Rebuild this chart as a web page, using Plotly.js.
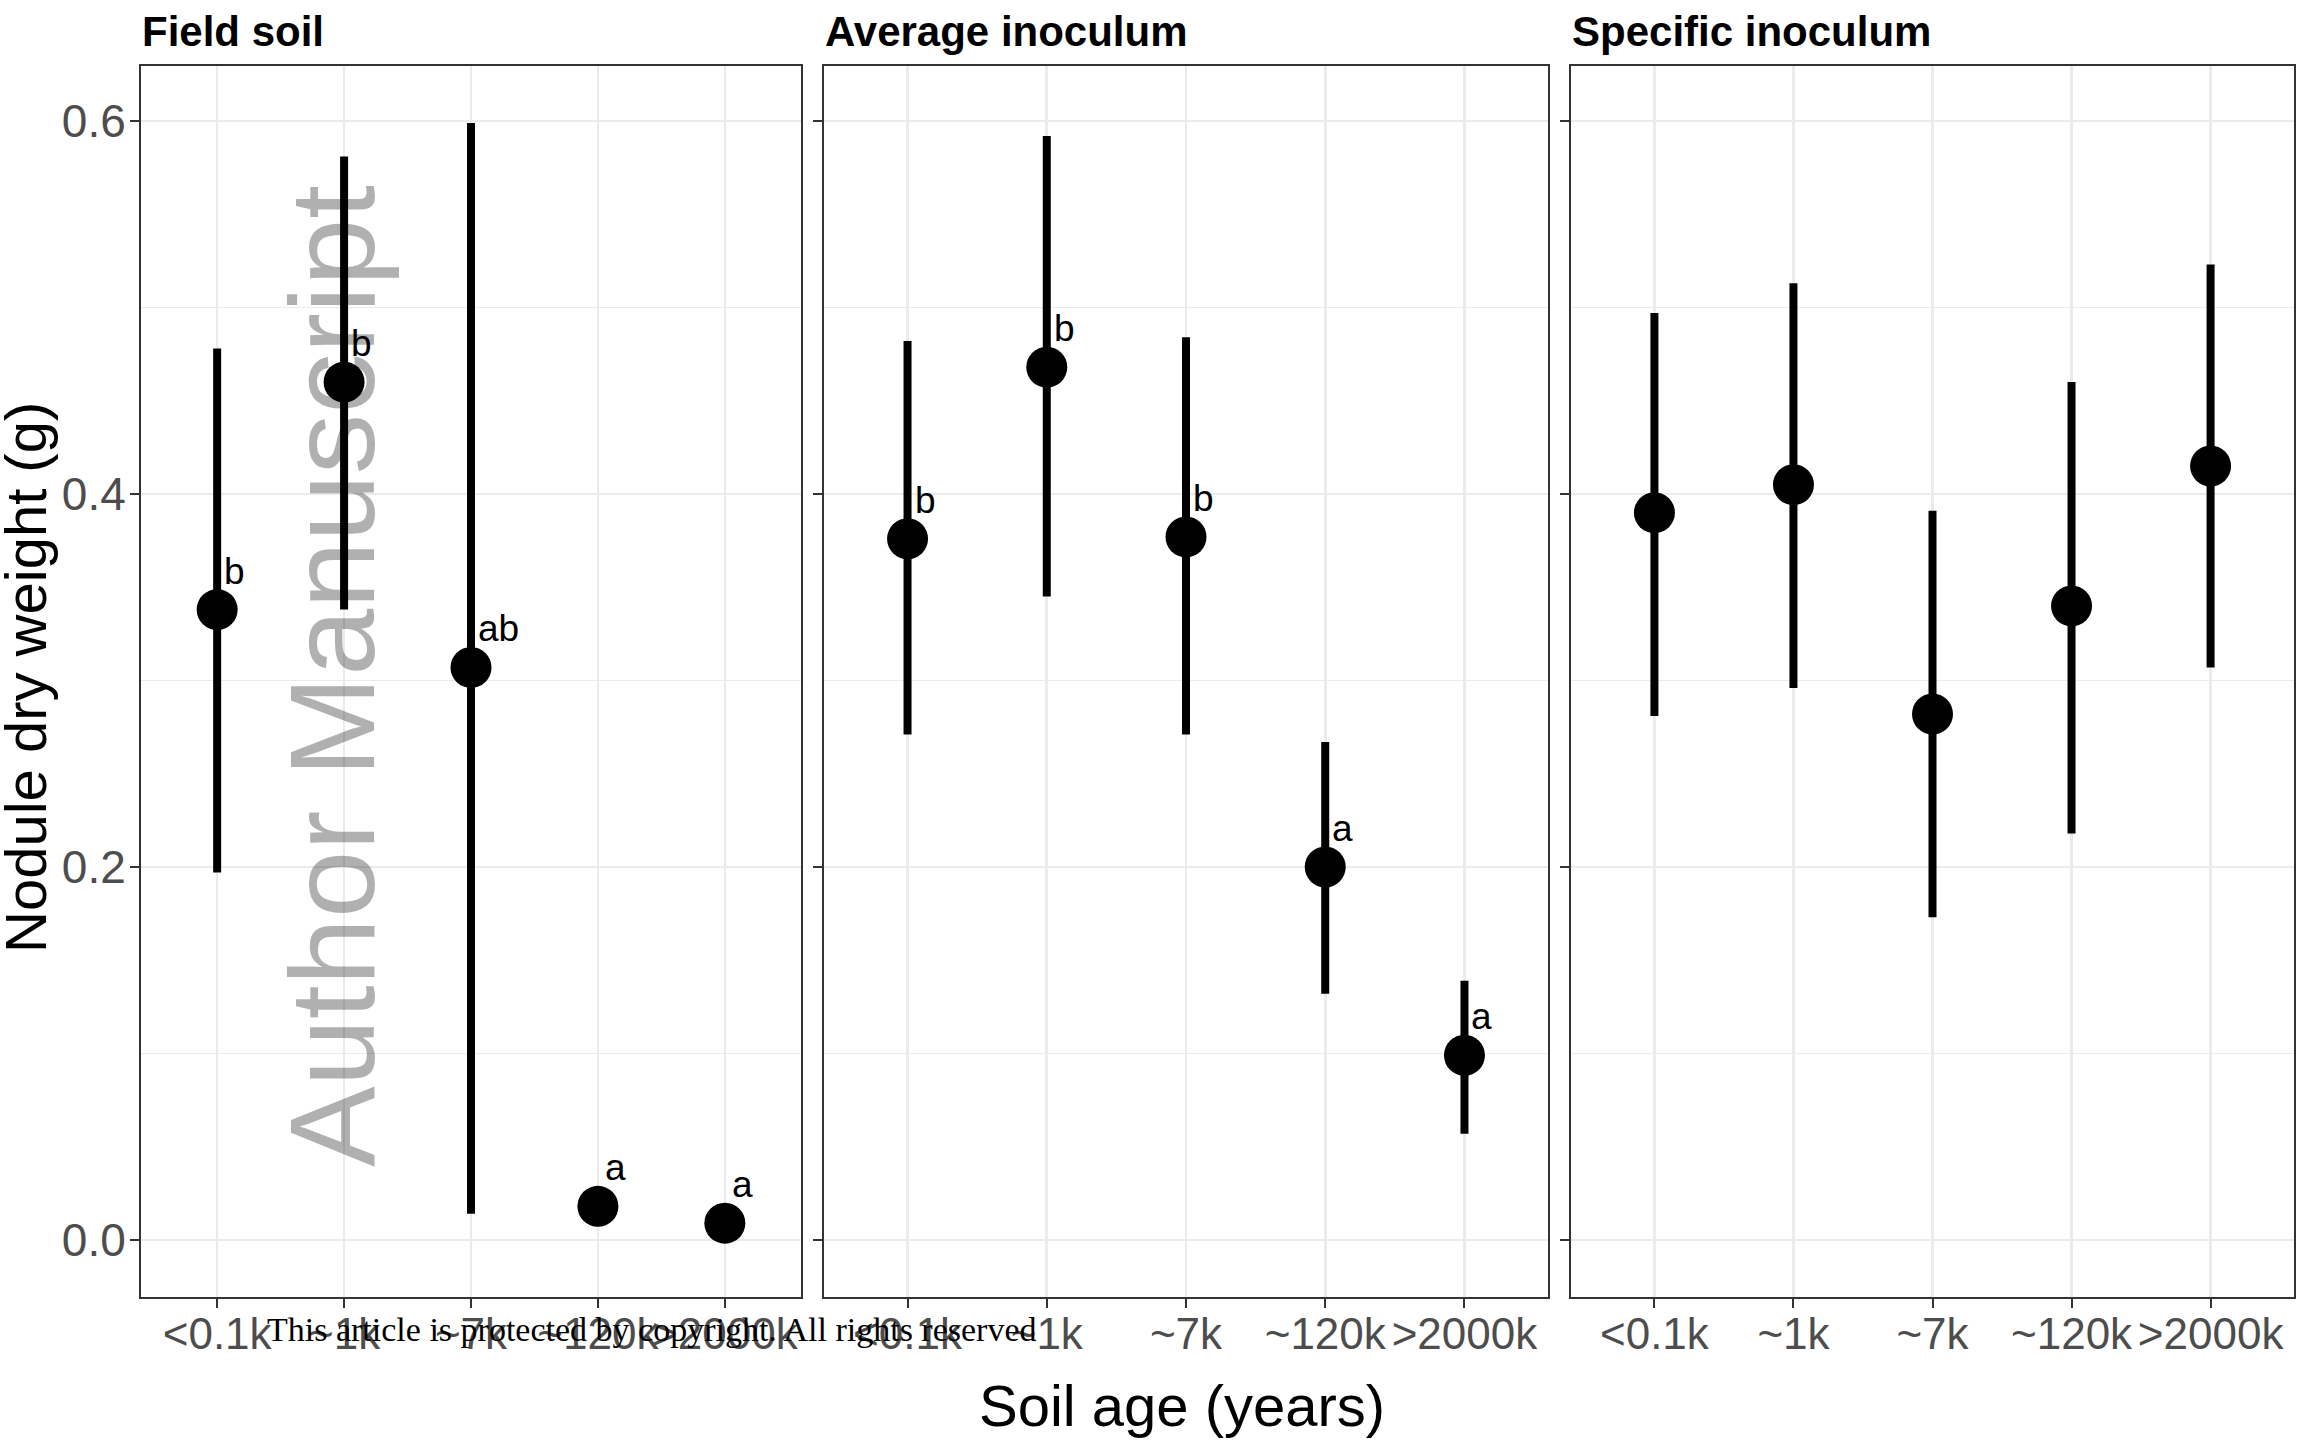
<!DOCTYPE html>
<html>
<head>
<meta charset="utf-8">
<script src="https://cdn.plot.ly/plotly-3.0.1.min.js"></script>
<style>html,body{margin:0;padding:0;background:#fff;}#chart{width:2299px;height:1440px;}</style>
</head>
<body>
<div id="chart"></div>
<script>
// ---- data ----
const categories = ['<0.1k', '~1k', '~7k', '~120k', '>2000k'];
const panelTitles = ['Field soil', 'Average inoculum', 'Specific inoculum'];

const fieldMean  = [0.338, 0.460, 0.307, 0.018, 0.009];
const fieldUpper = [0.478, 0.581, 0.599, 0.028, 0.017];
const fieldLower = [0.197, 0.338, 0.014, 0.008, 0.001];
const fieldLetters = ['b', 'b', 'ab', 'a', 'a'];

const avgMean  = [0.376, 0.468, 0.377, 0.200, 0.099];
const avgUpper = [0.482, 0.592, 0.484, 0.267, 0.139];
const avgLower = [0.271, 0.345, 0.271, 0.132, 0.057];
const avgLetters = ['b', 'b', 'b', 'a', 'a'];

const specMean  = [0.390, 0.405, 0.282, 0.340, 0.415];
const specUpper = [0.497, 0.513, 0.391, 0.460, 0.523];
const specLower = [0.281, 0.296, 0.173, 0.218, 0.307];

const yTickVals = [0, 0.2, 0.4, 0.6];
const yTickText = ['0.0', '0.2', '0.4', '0.6'];

// ---- build ----
const W = 2299, H = 1440;
const FONT = 'Liberation Sans, Arial, Helvetica, sans-serif';
const panels = [
  {mean: fieldMean, up: fieldUpper, lo: fieldLower, letters: fieldLetters, xa: 'x', ya: 'y', px: [141, 801]},
  {mean: avgMean, up: avgUpper, lo: avgLower, letters: avgLetters, xa: 'x2', ya: 'y2', px: [824, 1548]},
  {mean: specMean, up: specUpper, lo: specLower, letters: null, xa: 'x3', ya: 'y3', px: [1571, 2294]}
];

const traces = panels.map(p => ({
  type: 'scatter', mode: 'markers',
  x: categories, y: p.mean, xaxis: p.xa, yaxis: p.ya,
  marker: {size: 41, color: '#000000'},
  error_y: {
    type: 'data', symmetric: false,
    array: p.mean.map((m, i) => p.up[i] - m),
    arrayminus: p.mean.map((m, i) => m - p.lo[i]),
    thickness: 8, width: 0, color: '#000000'
  },
  showlegend: false, hoverinfo: 'skip'
}));

const yTop = 66, yBot = 1297;
const yDomain = [1 - yBot / H, 1 - yTop / H];
const yRange = [-0.0306, 0.6295];

const layout = {
  width: W, height: H,
  margin: {l: 0, r: 0, t: 0, b: 0},
  paper_bgcolor: '#ffffff', plot_bgcolor: '#ffffff',
  showlegend: false,
  font: {family: FONT, color: '#000000'},
  annotations: []
};

panels.forEach((p, k) => {
  const sfx = k === 0 ? '' : String(k + 1);
  layout['xaxis' + sfx] = {
    domain: [p.px[0] / W, p.px[1] / W], anchor: 'y' + sfx,
    type: 'category', categoryorder: 'array', categoryarray: categories,
    range: [-0.6, 4.6], fixedrange: true,
    showgrid: true, gridcolor: '#ebebeb', gridwidth: 2.6,
    zeroline: false,
    showline: true, mirror: true, linecolor: '#333333', linewidth: 2,
    ticks: 'outside', ticklen: 9, tickwidth: 2, tickcolor: '#333333',
    tickangle: 0, ticklabelstandoff: -12,
    tickfont: {family: FONT, size: 44, color: '#4d4d4d'}
  };
  layout['yaxis' + sfx] = {
    domain: yDomain, anchor: 'x' + sfx,
    range: yRange, fixedrange: true,
    tickvals: yTickVals, ticktext: yTickText,
    showticklabels: k === 0, ticklabelstandoff: -5,
    showgrid: true, gridcolor: '#ebebeb', gridwidth: 2.6,
    minor: {dtick: 0.1, tick0: 0, showgrid: true, gridcolor: '#ebebeb', gridwidth: 1.3, ticks: ''},
    zeroline: false,
    showline: true, mirror: true, linecolor: '#333333', linewidth: 2,
    ticks: 'outside', ticklen: 9, tickwidth: 2, tickcolor: '#333333',
    tickfont: {family: FONT, size: 46, color: '#4d4d4d'}
  };
  // panel title
  layout.annotations.push({
    xref: 'paper', yref: 'paper', x: (p.px[0] - 1) / W, y: 1 - 31 / H,
    xanchor: 'left', yanchor: 'middle', showarrow: false,
    text: '<b>' + panelTitles[k] + '</b>',
    font: {family: FONT, size: 42, color: '#000000'}
  });
  // significance letters
  if (p.letters) {
    p.letters.forEach((t, i) => {
      layout.annotations.push({
        xref: p.xa, yref: p.ya, x: categories[i], y: p.mean[i],
        xanchor: 'left', yanchor: 'bottom', xshift: 5, yshift: 16,
        showarrow: false, text: t,
        font: {family: FONT, size: 37, color: '#000000'}
      });
    });
  }
});

// axis titles
layout.annotations.push({
  xref: 'paper', yref: 'paper', x: 1182 / W, y: 1 - 1405 / H,
  xanchor: 'center', yanchor: 'middle', showarrow: false,
  text: 'Soil age (years)', font: {family: FONT, size: 58, color: '#000000'}
});
layout.annotations.push({
  xref: 'paper', yref: 'paper', x: 25 / W, y: 1 - 678 / H,
  xanchor: 'center', yanchor: 'middle', showarrow: false, textangle: -90,
  text: 'Nodule dry weight (g)', font: {family: FONT, size: 58, color: '#000000'}
});
// watermark
layout.annotations.push({
  xref: 'paper', yref: 'paper', x: 332 / W, y: 1 - 676 / H,
  xanchor: 'center', yanchor: 'middle', showarrow: false, textangle: -90,
  text: 'Author Manuscript', font: {family: FONT, size: 121, color: 'rgba(0,0,0,0.31)'}
});
// copyright line
layout.annotations.push({
  xref: 'paper', yref: 'paper', x: 652 / W, y: 1 - 1329 / H,
  xanchor: 'center', yanchor: 'middle', showarrow: false,
  text: 'This article is protected by copyright. All rights reserved',
  font: {family: 'Liberation Serif, Times New Roman, serif', size: 34, color: '#000000'}
});

Plotly.newPlot('chart', traces, layout, {staticPlot: true, displayModeBar: false});
</script>
</body>
</html>
